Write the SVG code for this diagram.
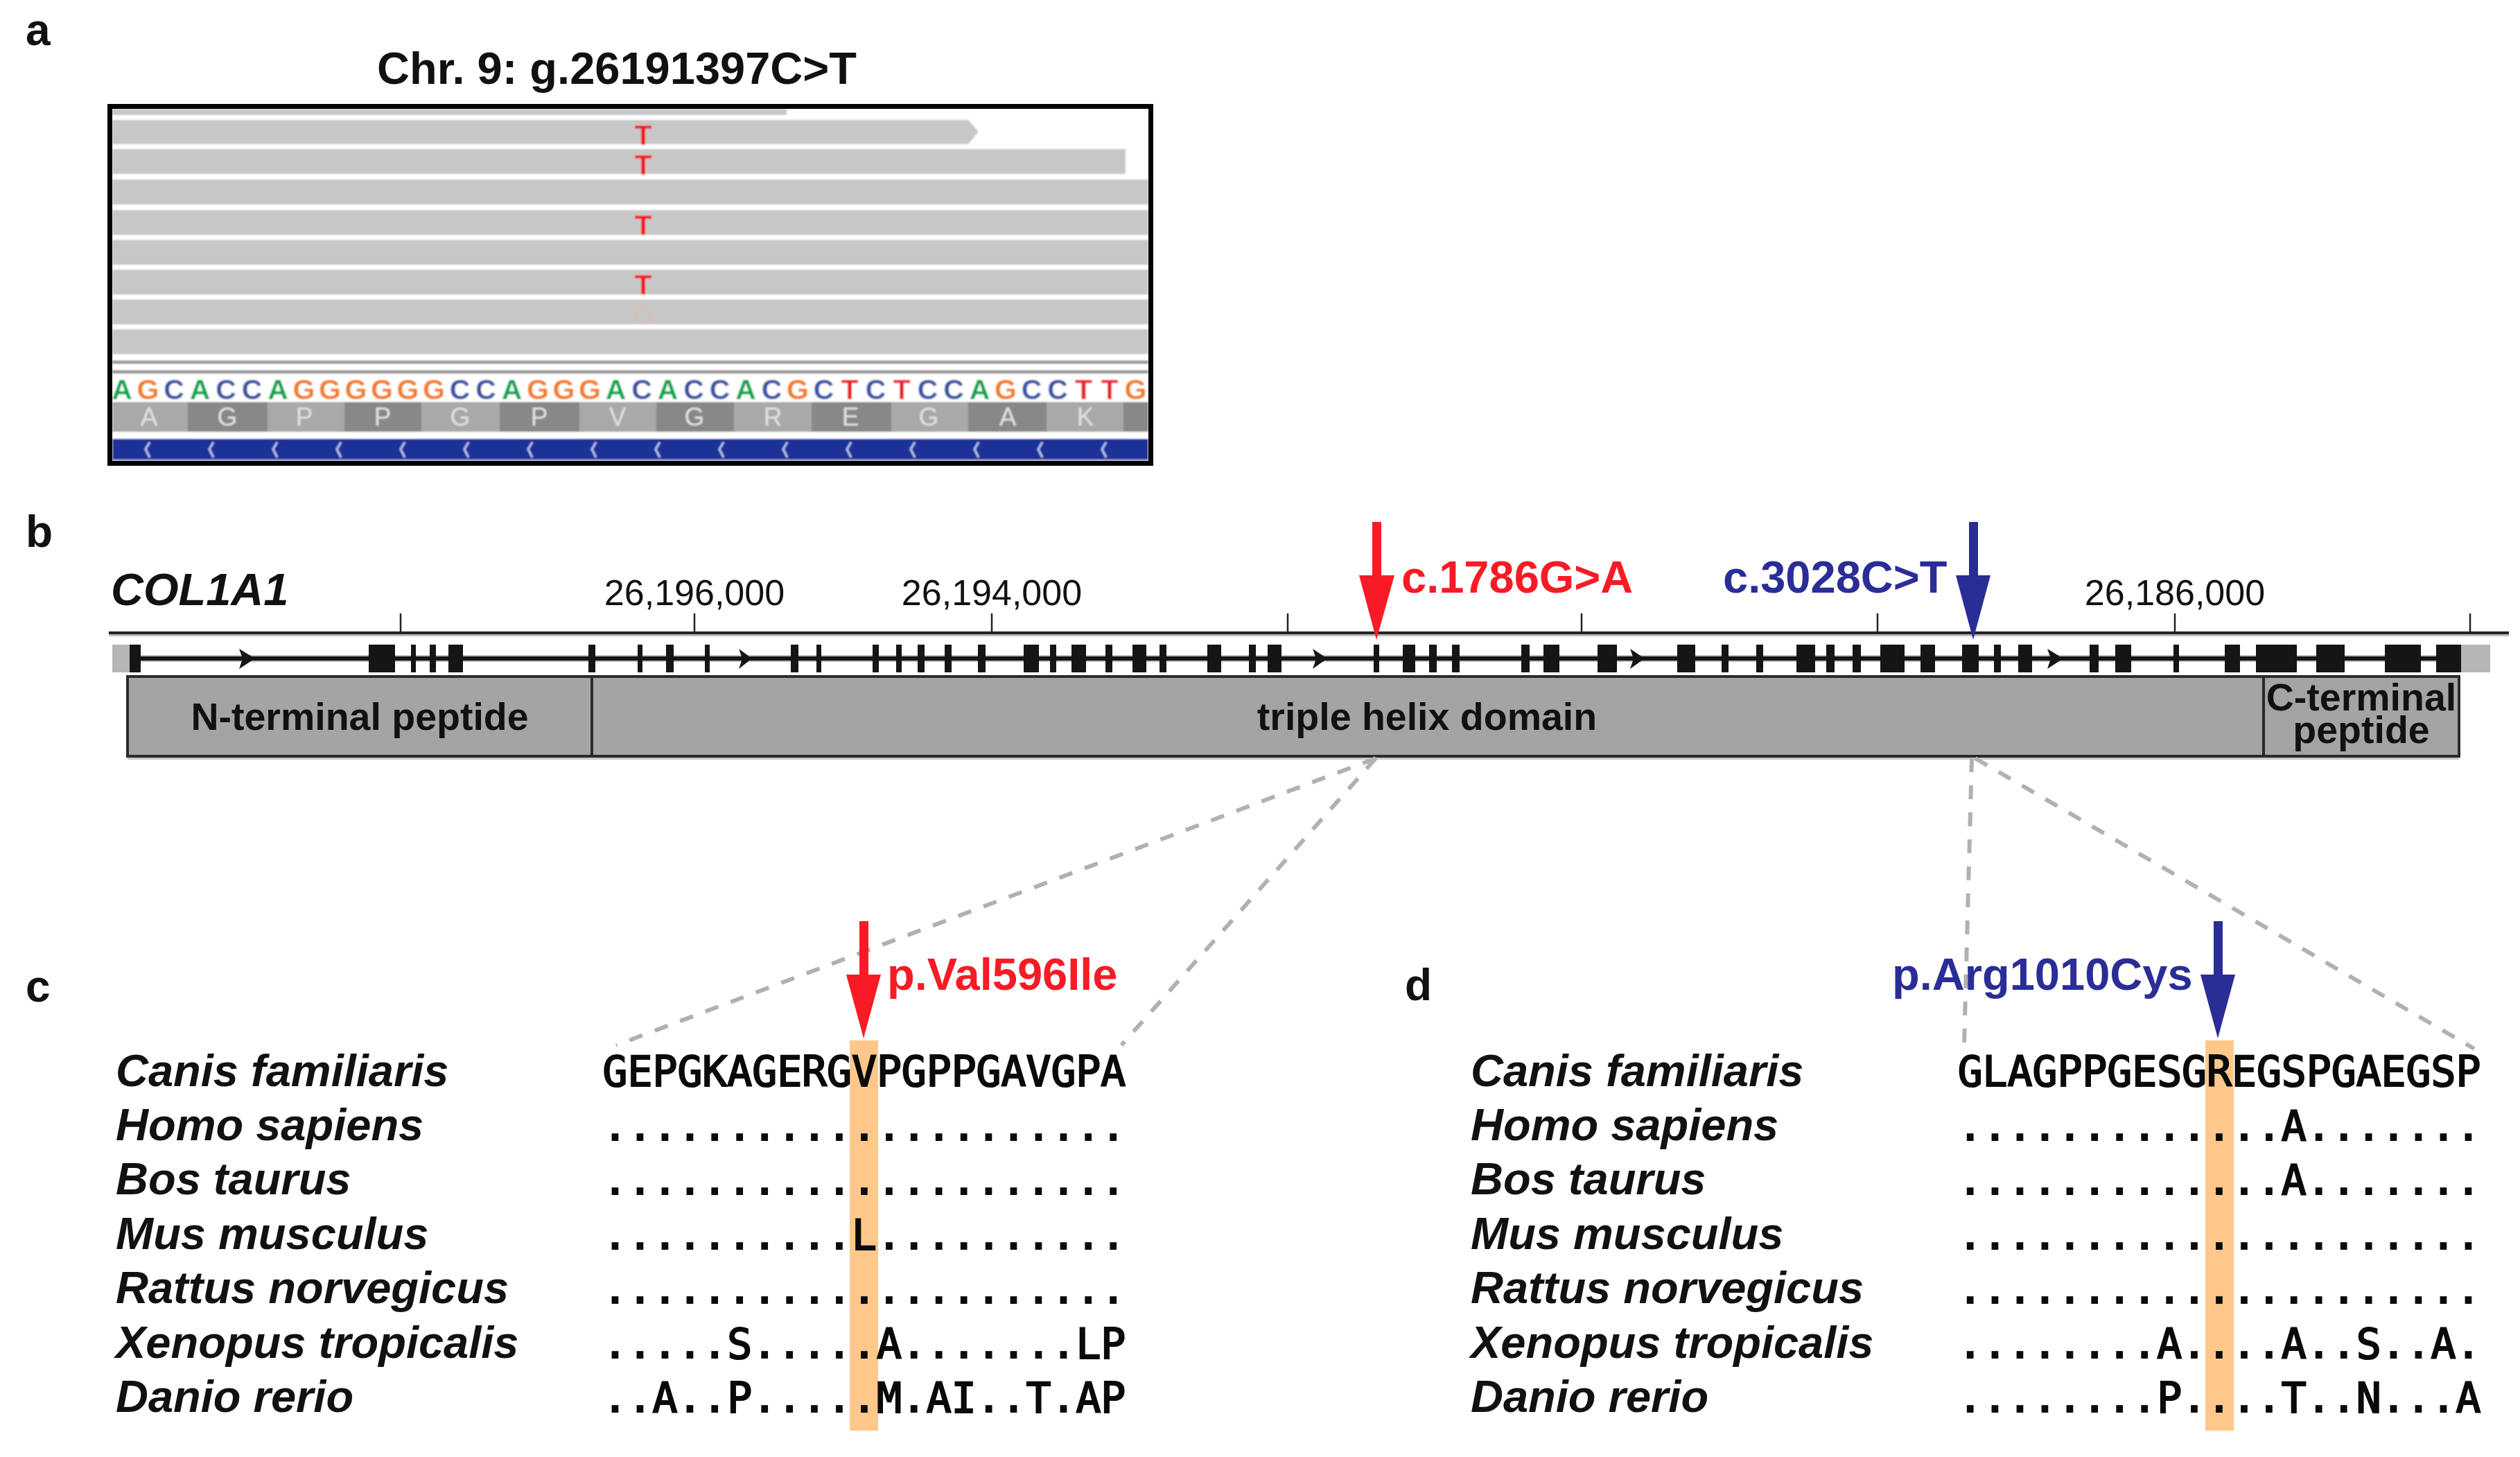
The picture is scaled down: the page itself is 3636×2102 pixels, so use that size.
<svg xmlns="http://www.w3.org/2000/svg" width="3636" height="2102" viewBox="0 0 3636 2102">
<style>
text{font-family:"Liberation Sans",Arial,sans-serif;fill:#111}
.b{font-weight:700}
.panel{font-size:64px;font-weight:700}
.title{font-size:65px;font-weight:700;text-anchor:middle}
.read{fill:#c8c7c7}
.mut{font-size:41px;font-weight:700;fill:#f5121f;text-anchor:middle}
.A,.G,.C,.T{font-size:41px;font-weight:700;text-anchor:middle}
.A{fill:#00a650}.G{fill:#f47b20}.C{fill:#3953a4}.T{fill:#ef1c27}
.aal{fill:#a8a9a8}.aad{fill:#878888}
.aa{font-size:37px;fill:#e2e2e2;text-anchor:middle}
.chev{fill:none;stroke:#b9c3ea;stroke-width:3}
.tick{stroke:#222;stroke-width:2.5}
.coord{font-size:52px;text-anchor:middle}
.exon{fill:#131613}
.dom{fill:#a4a4a4;stroke:#2a2a2a;stroke-width:4}
.domt{font-size:55.5px;font-weight:700;text-anchor:middle}
.sp{font-size:65px;font-weight:700;font-style:italic}
.seq{font-family:"DejaVu Sans Mono","Liberation Mono",monospace;font-size:59.7px;font-weight:700;fill:#0a0a0a}
.l{font-weight:400;stroke:#0a0a0a;stroke-width:2.2px}
.hl{fill:#ffc88a}
.dash{fill:none;stroke:#b0b1b3;stroke-width:6;stroke-dasharray:20 19}
.red{fill:#f81b26}.blue{fill:#2b2d97}
.var{font-size:65px;font-weight:700}
</style>
<defs><filter id="soft" x="0" y="0" width="1" height="1"><feGaussianBlur stdDeviation="0.8"/></filter></defs>

<g id="panel-a">
<text class="panel" x="37" y="65">a</text>
<text class="title" x="890" y="121">Chr. 9: g.26191397C&gt;T</text>
<g id="igv-view" filter="url(#soft)">
<g id="igv-reads">
<rect x="158" y="153" width="1503" height="516" fill="#fff"/>
<rect class="read" x="162" y="157" width="973" height="9"/>
<path class="read" d="M162 173H1397L1412 190L1397 208H162Z"/>
<rect class="read" x="162" y="215" width="1462" height="36"/>
<rect class="read" x="162" y="259" width="1495" height="36"/>
<rect class="read" x="162" y="303" width="1495" height="36"/>
<rect class="read" x="162" y="346" width="1495" height="36"/>
<rect class="read" x="162" y="389" width="1495" height="36"/>
<rect class="read" x="162" y="432" width="1495" height="36"/>
<rect class="read" x="162" y="475" width="1495" height="36"/>
<rect x="162" y="520" width="1495" height="5" fill="#999"/>
<rect x="162" y="534" width="1495" height="5" fill="#999"/>
<text class="mut" x="928" y="209">T</text>
<text class="mut" x="928" y="252">T</text>
<text class="mut" x="928" y="339">T</text>
<text class="mut" x="928" y="425">T</text>
<text class="mut" x="928" y="467" style="fill:#cfc2bf">G</text>
</g>
<g id="igv-sequence">
<text class="A" x="176" y="576">A</text><text class="G" x="213.5" y="576">G</text><text class="C" x="251" y="576">C</text><text class="A" x="288.5" y="576">A</text><text class="C" x="326" y="576">C</text><text class="C" x="363.5" y="576">C</text><text class="A" x="401" y="576">A</text><text class="G" x="438.5" y="576">G</text><text class="G" x="476" y="576">G</text><text class="G" x="513.5" y="576">G</text><text class="G" x="551" y="576">G</text><text class="G" x="588.5" y="576">G</text><text class="G" x="626" y="576">G</text><text class="C" x="663.5" y="576">C</text><text class="C" x="701" y="576">C</text><text class="A" x="738.5" y="576">A</text><text class="G" x="776" y="576">G</text><text class="G" x="813.5" y="576">G</text><text class="G" x="851" y="576">G</text><text class="A" x="888.5" y="576">A</text><text class="C" x="926" y="576">C</text><text class="A" x="963.5" y="576">A</text><text class="C" x="1001" y="576">C</text><text class="C" x="1038.5" y="576">C</text><text class="A" x="1076" y="576">A</text><text class="C" x="1113.5" y="576">C</text><text class="G" x="1151" y="576">G</text><text class="C" x="1188.5" y="576">C</text><text class="T" x="1226" y="576">T</text><text class="C" x="1263.5" y="576">C</text><text class="T" x="1301" y="576">T</text><text class="C" x="1338.5" y="576">C</text><text class="C" x="1376" y="576">C</text><text class="A" x="1413.5" y="576">A</text><text class="G" x="1451" y="576">G</text><text class="C" x="1488.5" y="576">C</text><text class="C" x="1526" y="576">C</text><text class="T" x="1563.5" y="576">T</text><text class="T" x="1601" y="576">T</text><text class="G" x="1638.5" y="576">G</text>
</g>
<g id="igv-aminoacids">
<rect class="aal" x="162" y="580" width="109" height="43"/><rect class="aad" x="271" y="580" width="115" height="43"/><rect class="aal" x="386" y="580" width="111" height="43"/><rect class="aad" x="497" y="580" width="111" height="43"/><rect class="aal" x="608" y="580" width="113" height="43"/><rect class="aad" x="721" y="580" width="115" height="43"/><rect class="aal" x="836" y="580" width="111" height="43"/><rect class="aad" x="947" y="580" width="112" height="43"/><rect class="aal" x="1059" y="580" width="112" height="43"/><rect class="aad" x="1171" y="580" width="115" height="43"/><rect class="aal" x="1286" y="580" width="111" height="43"/><rect class="aad" x="1397" y="580" width="113" height="43"/><rect class="aal" x="1510" y="580" width="111" height="43"/><rect class="aad" x="1621" y="580" width="36" height="43"/>
<text class="aa" x="215" y="614">A</text><text class="aa" x="328" y="614">G</text><text class="aa" x="439" y="614">P</text><text class="aa" x="552" y="614">P</text><text class="aa" x="664" y="614">G</text><text class="aa" x="778" y="614">P</text><text class="aa" x="891" y="614">V</text><text class="aa" x="1002" y="614">G</text><text class="aa" x="1115" y="614">R</text><text class="aa" x="1227" y="614">E</text><text class="aa" x="1340" y="614">G</text><text class="aa" x="1454" y="614">A</text><text class="aa" x="1566" y="614">K</text>
</g>
<g id="igv-strand">
<rect x="162" y="633" width="1495" height="30" fill="#1c3399"/>
<rect x="162" y="663" width="1495" height="3" fill="#aeb6d8"/>
<path class="chev" d="M216 638L210 648L216 660M308 638L302 648L308 660M400 638L394 648L400 660M492 638L486 648L492 660M584 638L578 648L584 660M676 638L670 648L676 660M768 638L762 648L768 660M860 638L854 648L860 660M952 638L946 648L952 660M1044 638L1038 648L1044 660M1136 638L1130 648L1136 660M1228 638L1222 648L1228 660M1320 638L1314 648L1320 660M1412 638L1406 648L1412 660M1504 638L1498 648L1504 660M1596 638L1590 648L1596 660"/>
</g>
</g>
<rect id="igv-frame" x="158.5" y="153.5" width="1502" height="515" fill="none" stroke="#000" stroke-width="7"/>
</g>

<g id="panel-b">
<text class="panel" x="37" y="789">b</text>
<text class="b" x="160" y="873" font-size="65" font-style="italic">COL1A1</text>
<g id="axis">
<rect x="157" y="915" width="3463" height="3" fill="#bbb"/>
<rect x="157" y="911" width="3463" height="4" fill="#222"/>
<path class="tick" d="M578 885V912M1002 885V912M1431 885V912M1858 885V912M2282 885V912M2709 885V912M3138 885V912M3564 885V912"/>
<text class="coord" x="1002" y="873">26,196,000</text>
<text class="coord" x="1431" y="873">26,194,000</text>
<text class="coord" x="3138" y="873">26,186,000</text>
</g>
<g id="gene-track">
<rect x="162" y="930" width="25" height="40" fill="#b6b6b6"/>
<rect x="3551" y="930" width="42" height="40" fill="#b6b6b6"/>
<rect x="187" y="945" width="3364" height="10" fill="#bdbdbd"/>
<rect x="187" y="947" width="3364" height="6" fill="#131613"/>
<path class="exon" d="M187 930h16v40h-16zM532 930h38v40h-38zM593 930h7v40h-7zM620 930h9v40h-9zM647 930h21v40h-21zM849 930h10v40h-10zM920 930h7v40h-7zM961 930h11v40h-11zM1017 930h7v40h-7zM1141 930h11v40h-11zM1178 930h7v40h-7zM1259 930h9v40h-9zM1293 930h8v40h-8zM1324 930h10v40h-10zM1363 930h10v40h-10zM1411 930h11v40h-11zM1477 930h22v40h-22zM1515 930h9v40h-9zM1546 930h21v40h-21zM1595 930h10v40h-10zM1634 930h20v40h-20zM1673 930h10v40h-10zM1742 930h20v40h-20zM1802 930h10v40h-10zM1829 930h20v40h-20zM1982 930h8v40h-8zM2024 930h18v40h-18zM2062 930h11v40h-11zM2095 930h11v40h-11zM2195 930h12v40h-12zM2227 930h23v40h-23zM2305 930h28v40h-28zM2420 930h26v40h-26zM2484 930h10v40h-10zM2534 930h10v40h-10zM2592 930h27v40h-27zM2635 930h12v40h-12zM2673 930h12v40h-12zM2713 930h35v40h-35zM2771 930h21v40h-21zM2831 930h24v40h-24zM2877 930h10v40h-10zM2912 930h20v40h-20zM3015 930h13v40h-13zM3052 930h23v40h-23zM3136 930h8v40h-8zM3210 930h22v40h-22zM3255 930h59v40h-59zM3342 930h41v40h-41zM3441 930h52v40h-52zM3515 930h36v40h-36z"/>
<path class="exon" d="M345 936L368 950L345 965L350 950zM1066 936L1085 950L1066 965L1071 950zM1894 936L1915 950L1894 965L1899 950zM2352 936L2373 950L2352 965L2357 950zM2954 936L2977 950L2954 965L2959 950z"/>
</g>
<rect x="184" y="1093" width="3364" height="3" fill="#c9c9c9"/>
<g id="domain-n-terminal">
<rect class="dom" x="184" y="976" width="670" height="115"/>
<text class="domt" x="519" y="1053">N-terminal peptide</text>
</g>
<g id="domain-triple-helix">
<rect class="dom" x="854" y="976" width="2412" height="115"/>
<text class="domt" x="2059" y="1053">triple helix domain</text>
</g>
<g id="domain-c-terminal">
<rect class="dom" x="3266" y="976" width="282" height="115"/>
<text class="domt" x="3407" y="1025">C-terminal</text>
<text class="domt" x="3407" y="1072">peptide</text>
</g>
</g>

<g id="connectors">
<path class="dash" d="M1985 1094L889 1508"/>
<path class="dash" d="M1985 1094L1618 1508"/>
<path class="dash" d="M2845 1094L2834 1508"/>
<path class="dash" d="M2850 1094L3570 1513"/>
</g>

<g id="variant-markers">
<path class="red" d="M1980 753h13v77h19L1986 923L1961 830h19z"/>
<text class="var red" x="2022" y="855">c.1786G&gt;A</text>
<path class="blue" d="M2841 753h13v77h18L2847 923L2822 830h19z"/>
<text class="var blue" x="2486" y="855">c.3028C&gt;T</text>
</g>

<g id="panel-c">
<text class="panel" x="37" y="1445">c</text>
<rect class="hl" x="1226" y="1501" width="41" height="563"/>
<text class="sp" x="167" y="1567">Canis familiaris</text>
<text class="sp" x="167" y="1645">Homo sapiens</text>
<text class="sp" x="167" y="1723">Bos taurus</text>
<text class="sp" x="167" y="1802">Mus musculus</text>
<text class="sp" x="167" y="1880">Rattus norvegicus</text>
<text class="sp" x="167" y="1959">Xenopus tropicalis</text>
<text class="sp" x="167" y="2037">Danio rerio</text>
<text class="seq" x="869.6" y="1567"><tspan class="l">GEPGKAGERGVPGPPGAVGPA</tspan></text>
<text class="seq" x="869.6" y="1646">.....................</text>
<text class="seq" x="869.6" y="1724">.....................</text>
<text class="seq" x="869.6" y="1803">..........<tspan class="l">L</tspan>..........</text>
<text class="seq" x="869.6" y="1881">.....................</text>
<text class="seq" x="869.6" y="1960">.....<tspan class="l">S</tspan>.....<tspan class="l">A</tspan>.......<tspan class="l">LP</tspan></text>
<text class="seq" x="869.6" y="2038">..<tspan class="l">A</tspan>..<tspan class="l">P</tspan>.....<tspan class="l">M</tspan>.<tspan class="l">AI</tspan>..<tspan class="l">T</tspan>.<tspan class="l">AP</tspan></text>
<path class="red" d="M1240 1329h13v77h18L1246 1498L1221 1406h19z"/>
<text class="var red" x="1280" y="1428">p.Val596Ile</text>
</g>

<g id="panel-d">
<text class="panel" x="2027" y="1443">d</text>
<rect class="hl" x="3182" y="1501" width="41" height="563"/>
<text class="sp" x="2122" y="1567">Canis familiaris</text>
<text class="sp" x="2122" y="1645">Homo sapiens</text>
<text class="sp" x="2122" y="1723">Bos taurus</text>
<text class="sp" x="2122" y="1802">Mus musculus</text>
<text class="sp" x="2122" y="1880">Rattus norvegicus</text>
<text class="sp" x="2122" y="1959">Xenopus tropicalis</text>
<text class="sp" x="2122" y="2037">Danio rerio</text>
<text class="seq" x="2824.7" y="1567"><tspan class="l">GLAGPPGESGREGSPGAEGSP</tspan></text>
<text class="seq" x="2824.7" y="1646">.............<tspan class="l">A</tspan>.......</text>
<text class="seq" x="2824.7" y="1724">.............<tspan class="l">A</tspan>.......</text>
<text class="seq" x="2824.7" y="1803">.....................</text>
<text class="seq" x="2824.7" y="1881">.....................</text>
<text class="seq" x="2824.7" y="1960">........<tspan class="l">A</tspan>....<tspan class="l">A</tspan>..<tspan class="l">S</tspan>..<tspan class="l">A</tspan>.</text>
<text class="seq" x="2824.7" y="2038">........<tspan class="l">P</tspan>....<tspan class="l">T</tspan>..<tspan class="l">N</tspan>...<tspan class="l">A</tspan></text>
<path class="blue" d="M3194 1329h13v77h18L3200 1498L3175 1406h19z"/>
<text class="var blue" x="2730" y="1428">p.Arg1010Cys</text>
</g>
</svg>
